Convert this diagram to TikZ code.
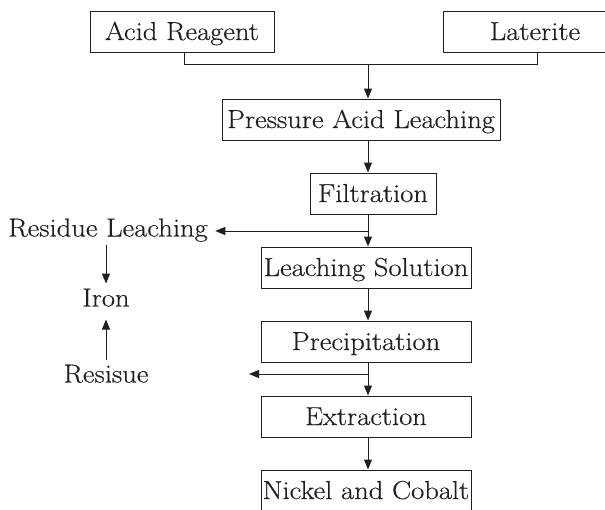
\documentclass[tikz,border=0pt]{standalone}
\usepackage{fontspec}
\setmainfont{Latin Modern Roman}[FakeStretch=1.1, FakeBold=0.4]
\usetikzlibrary{arrows.meta,calc}
\definecolor{ink}{HTML}{231F20}
\begin{document}
\begin{tikzpicture}[x=1pt,y=-1pt,
  font=\fontsize{26}{30}\selectfont, line width=1pt, draw=ink, text=ink,
  box/.style={draw, inner sep=0pt, text height=17pt, text depth=0pt, minimum height=41pt, anchor=center},
  lbl/.style={inner sep=0pt, text height=17pt, text depth=0pt},
  arr/.style={-{Triangle[length=10pt,width=8pt]}}]
\useasboundingbox (0,0) rectangle (605,509);
\clip (0,0) rectangle (605,509);
% boxes
\node[box, minimum width=184pt] (acid) at (182,31.5) {Acid Reagent};
\node[box, minimum width=184pt] (lat) at (535,31.5) {Laterite};
\node[box, minimum width=278pt] (pal) at (361,119.5) {Pressure Acid Leaching};
\node[box, minimum width=126pt] (fil) at (373,193.5) {Filtration};
\node[box, minimum width=210pt] (ls) at (366,267.5) {Leaching Solution};
\node[box, minimum width=210pt] (pre) at (366,341.5) {Precipitation};
\node[box, minimum width=210pt] (ext) at (366,416.5) {Extraction};
\node[box, minimum width=210pt] (nc) at (366,490.5) {Nickel and Cobalt};
% side labels
\node[lbl] (rl) at (108,228) {Residue Leaching};
\node[lbl] (iron) at (106,298) {Iron};
\node[lbl] (res) at (106,374) {Resisue};
% junctions
\coordinate (m) at (368,64.5);
\coordinate (b1) at (368,231);
\coordinate (b2) at (368,374);
\coordinate (b2e) at (249,374);
% connectors
\draw ($(acid.south)+(2,0)$) |- (m) -| ($(lat.south)+(2,0)$);
\draw[arr] (m) -- (m |- pal.north);
\draw[arr] (pal.south -| m) -- (fil.north -| m);
\draw[arr] (fil.south -| m) -- (ls.north -| m);
\draw[arr] (b1) -- ($(rl.east |- b1)+(7,0)$);
\draw[arr] (ls.south -| m) -- (pre.north -| m);
\draw[arr] (pre.south -| m) -- (ext.north -| m);
\draw[arr] (b2) -- (b2e);
\draw[arr] (ext.south -| m) -- (nc.north -| m);
\draw[arr] ($(iron.north |- rl.south)+(0,7.5)$) -- ($(iron.north)+(0,-5.5)$);
\draw[arr] ($(res.north)+(0,-5.5)$) -- ($(iron.south)+(0,12.5)$);
\end{tikzpicture}
\end{document}
